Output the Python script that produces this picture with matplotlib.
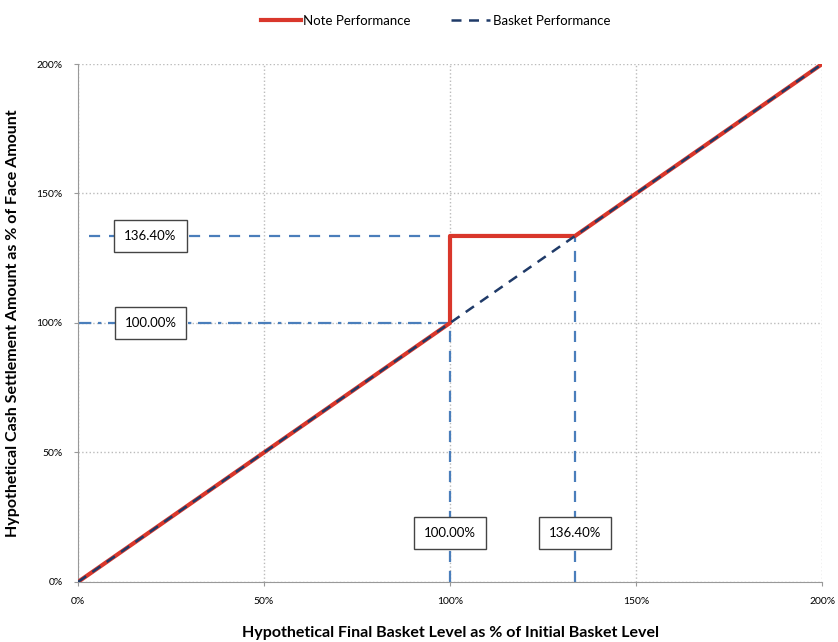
import matplotlib.pyplot as plt
from matplotlib.ticker import FuncFormatter

plt.rcParams['font.family'] = ['Lato', 'DejaVu Sans']

# data (percent of initial / face)
basket_x = [0, 200]
basket_y = [0, 200]
cap_level = 133.6  # where the flat part is drawn on the picture
note_x = [0, 100, 100, cap_level, 200]
note_y = [0, 100, cap_level, cap_level, 200]
level_labels = ['100.00%', '136.40%']
level_vals = [100, cap_level]

fig = plt.figure(figsize=(8.38, 6.42), dpi=100)
ax = fig.add_axes([0.093, 0.0935, 0.888, 0.8068])

ax.set_xlim(0, 200)
ax.set_ylim(0, 200)
ax.set_xticks([0, 50, 100, 150, 200])
ax.set_yticks([0, 50, 100, 150, 200])
pct = FuncFormatter(lambda v, p: '%d%%' % v)
ax.xaxis.set_major_formatter(pct)
ax.yaxis.set_major_formatter(pct)
ax.tick_params(labelsize=7.5, length=3, color='#999999', pad=8)
ax.grid(True, linestyle=':', color='#bbbbbb', linewidth=1)
for s in ['top', 'right']:
    ax.spines[s].set_visible(False)
for s in ['left', 'bottom']:
    ax.spines[s].set_color('#999999')

dropc = '#4a7ebb'
# drop lines
ax.plot([0, 100], [100, 100], color=dropc, ls=(0, (6, 3, 1.5, 3)), lw=1.6)
ax.plot([3, cap_level], [cap_level, cap_level], color=dropc, ls=(0, (5, 4)), lw=1.6)
ax.plot([100, 100], [0, 100], color=dropc, ls=(0, (5, 4)), lw=1.6)
ax.plot([cap_level, cap_level], [0, cap_level], color=dropc, ls=(0, (5, 4)), lw=1.6)

ax.plot(note_x, note_y, color='#d9372b', lw=3, label='Note Performance', zorder=3)
ax.plot(basket_x, basket_y, color='#1f3a68', lw=1.8, ls=(0, (4, 3)), label='Basket Performance', zorder=4)

box = dict(boxstyle='square,pad=0.75', fc='white', ec='#444444', lw=1)
for lab, v in zip(level_labels, level_vals):
    ax.text(19.5, v, lab, ha='center', va='center', fontsize=9.5, bbox=box, zorder=5)
    ax.text(v, 19, lab, ha='center', va='center', fontsize=9.5, bbox=box, zorder=5)

ax.set_xlabel('Hypothetical Final Basket Level as % of Initial Basket Level',
              fontsize=11.5, fontweight='bold', labelpad=14)
ax.set_ylabel('Hypothetical Cash Settlement Amount as % of Face Amount',
              fontsize=11.5, fontweight='bold', labelpad=12)

fig.legend(loc='upper center', bbox_to_anchor=(0.52, 0.995), ncol=2, frameon=False,
           fontsize=9.5, handlelength=3, columnspacing=3, handletextpad=0.2)

fig.savefig('out.png', dpi=100)
